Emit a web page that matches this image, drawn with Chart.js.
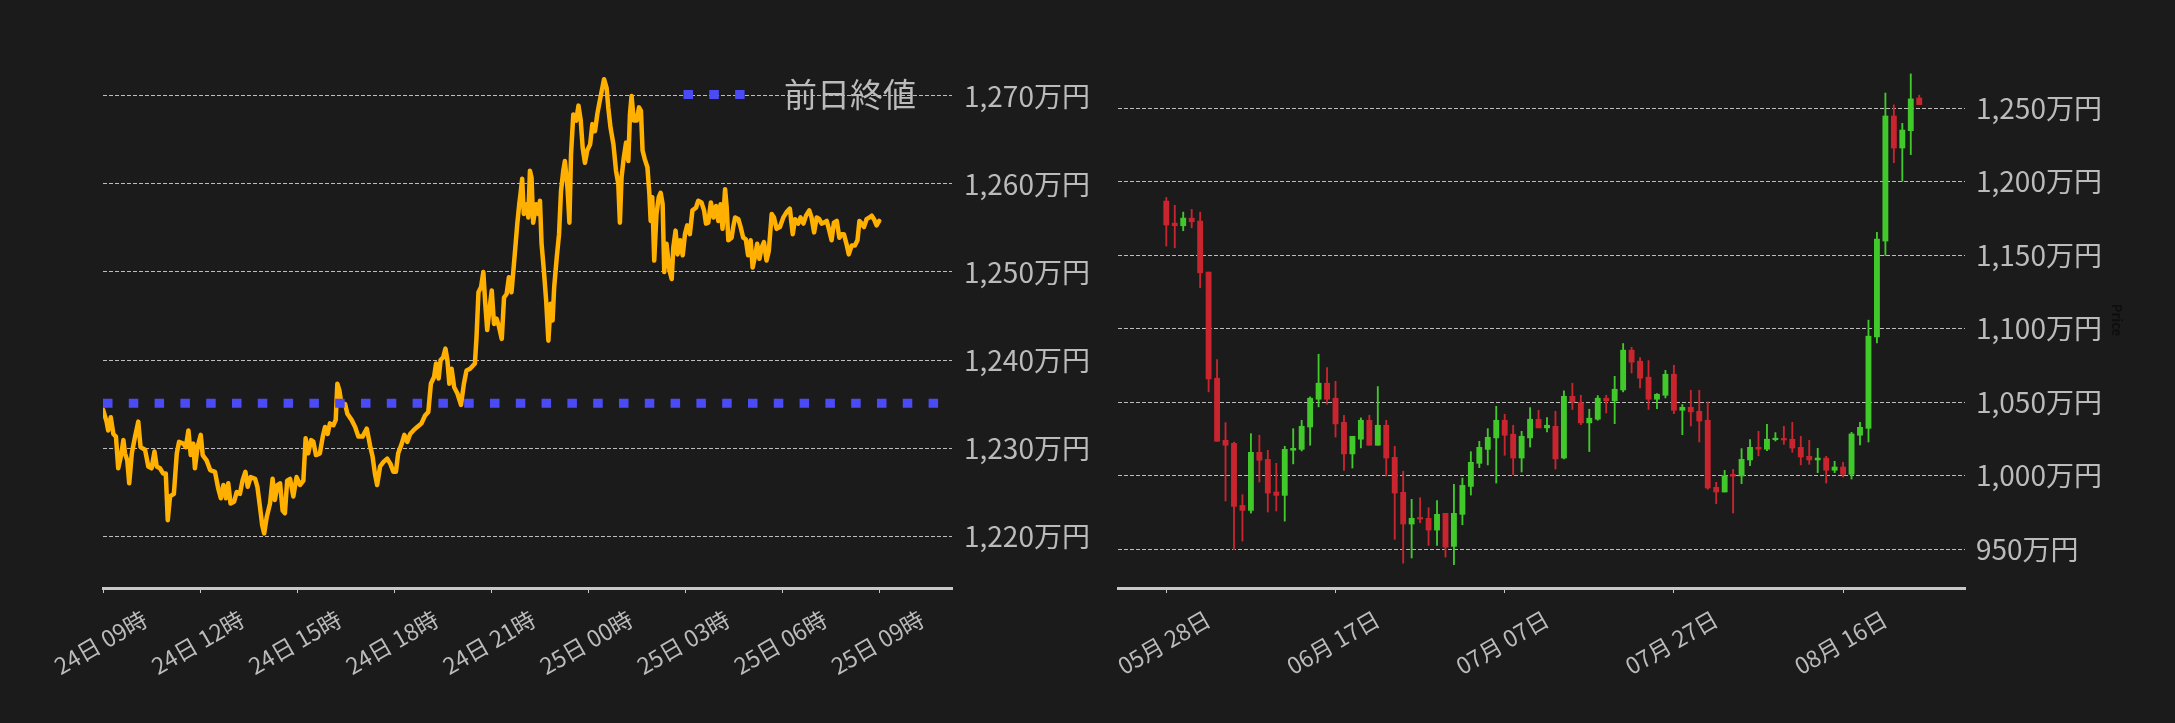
<!DOCTYPE html>
<html>
<head>
<meta charset="utf-8">
<script src="https://cdn.jsdelivr.net/npm/chart.js@4.4.1/dist/chart.umd.min.js"></script>
<style>
  html, body { margin: 0; padding: 0; background: #1b1b1b; width: 2175px; height: 723px; overflow: hidden; }
  canvas { position: absolute; top: 0; }
  #intraday { left: 0; }
  #daily { left: 1000px; }
</style>
</head>
<body>
<canvas id="intraday" width="1110" height="723"></canvas>
<canvas id="daily" width="1175" height="723"></canvas>
<script>
// --- intraday price, hours after 24日 09:00, values in 万円 ---
const priceHours = [
  0.00, 0.11, 0.16, 0.24, 0.32, 0.40, 0.47, 0.55, 0.63, 0.68, 0.75, 0.81, 0.89, 0.99, 1.09, 1.16, 1.30, 1.40, 1.50, 1.59,
  1.66, 1.76, 1.86, 1.94, 2.00, 2.07, 2.19, 2.28, 2.35, 2.48, 2.56, 2.64, 2.71, 2.79, 2.84, 2.92, 3.02, 3.08, 3.20, 3.31,
  3.46, 3.56, 3.64, 3.72, 3.80, 3.87, 3.94, 4.05, 4.13, 4.23, 4.31, 4.40, 4.47, 4.56, 4.70, 4.77, 4.85, 4.92, 4.98, 5.06,
  5.16, 5.24, 5.31, 5.39, 5.47, 5.55, 5.62, 5.69, 5.78, 5.88, 5.98, 6.09, 6.19, 6.26, 6.34, 6.43, 6.50, 6.58, 6.70, 6.79,
  6.86, 6.94, 7.01, 7.12, 7.19, 7.24, 7.30, 7.37, 7.48, 7.55, 7.68, 7.79, 7.89,
  8.02, 8.15, 8.25, 8.33, 8.40, 8.47, 8.56, 8.66, 8.78, 8.88, 8.97, 9.05, 9.12, 9.23, 9.31, 9.40, 9.49, 9.59, 9.71, 9.84,
  9.95, 10.05, 10.13, 10.23, 10.29, 10.37, 10.43, 10.51, 10.58, 10.64, 10.70, 10.77, 10.85, 10.95, 11.06, 11.15, 11.23, 11.34, 11.49, 11.54,
  11.60, 11.68, 11.75, 11.81, 11.87, 11.96, 12.01, 12.08, 12.16, 12.24, 12.32, 12.39, 12.47, 12.54, 12.62, 12.68, 12.73, 12.80, 12.86, 12.90,
  12.95, 13.00, 13.09, 13.14, 13.19, 13.24, 13.29, 13.38, 13.45, 13.50, 13.55, 13.62, 13.69, 13.76, 13.83, 13.89, 13.94, 14.02, 14.09, 14.15,
  14.22, 14.27, 14.35, 14.41, 14.46, 14.53, 14.62, 14.69, 14.76, 14.82, 14.89, 14.96, 15.05, 15.12, 15.20, 15.27, 15.33, 15.41, 15.48, 15.56,
  15.61, 15.68, 15.77, 15.85, 15.92, 15.97,
  16.02, 16.09, 16.16, 16.23, 16.28, 16.33, 16.40, 16.49, 16.56, 16.62, 16.67, 16.74, 16.82, 16.88, 16.92, 16.97, 17.03, 17.10, 17.17, 17.23,
  17.29, 17.34, 17.41, 17.50, 17.57, 17.62, 17.69, 17.75, 17.83, 17.91, 17.98, 18.05, 18.13, 18.21, 18.32, 18.39, 18.49, 18.57, 18.63, 18.70,
  18.78, 18.86, 18.94, 19.01, 19.08, 19.14, 19.22, 19.27, 19.32, 19.42, 19.47, 19.53, 19.63, 19.70, 19.78, 19.86, 19.93, 20.01, 20.07, 20.14,
  20.21, 20.28, 20.35, 20.42, 20.50, 20.57, 20.66, 20.73, 20.81, 20.91, 21.02, 21.12, 21.22, 21.31, 21.38, 21.48, 21.55, 21.64, 21.72, 21.82,
  21.89, 21.97, 22.05, 22.13, 22.20, 22.27, 22.36, 22.44, 22.51, 22.58, 22.67, 22.75, 22.82, 22.89, 22.97, 23.04, 23.13, 23.23, 23.31, 23.37,
  23.44, 23.51, 23.59, 23.68, 23.75, 23.82, 23.90, 23.98
];
const priceMan = [
  1234.4, 1233.0, 1232.0, 1233.5, 1231.6, 1231.3, 1227.7, 1229.0, 1230.9, 1229.4, 1228.6, 1226.0, 1229.4, 1231.3, 1233.0, 1230.1, 1229.8, 1227.9, 1227.7, 1229.6,
  1227.9, 1227.7, 1227.1, 1227.1, 1221.8, 1224.5, 1224.8, 1229.4, 1230.7, 1230.5, 1230.1, 1232.0, 1229.2, 1230.5, 1227.7, 1230.1, 1231.5, 1229.2, 1228.6, 1227.5,
  1227.3, 1225.4, 1224.3, 1225.8, 1224.3, 1226.0, 1223.7, 1223.9, 1225.0, 1224.8, 1226.3, 1227.3, 1225.6, 1226.7, 1226.5, 1225.6, 1223.3, 1221.2, 1220.3, 1222.2,
  1223.7, 1226.5, 1224.1, 1225.8, 1226.0, 1222.9, 1222.6, 1226.3, 1226.5, 1224.5, 1226.7, 1225.8, 1226.3, 1231.1, 1229.4, 1230.9, 1230.7, 1229.2, 1229.4, 1231.3,
  1232.4, 1231.6, 1232.8, 1232.6, 1233.2, 1237.3, 1236.6, 1235.0, 1235.0, 1233.9, 1233.2, 1232.4, 1231.3,
  1231.3, 1232.2, 1230.3, 1229.0, 1227.1, 1225.8, 1227.9, 1228.4, 1228.8, 1228.2, 1227.3, 1227.3, 1229.4, 1230.5, 1231.5, 1230.7, 1231.6, 1232.0, 1232.4, 1232.8,
  1233.7, 1234.1, 1237.3, 1238.1, 1239.6, 1237.9, 1240.0, 1240.3, 1241.3, 1240.0, 1237.3, 1239.0, 1236.9, 1236.2, 1234.9, 1237.3, 1238.8, 1239.0, 1239.6, 1242.6,
  1247.7, 1248.3, 1250.0, 1246.4, 1243.4, 1246.4, 1247.9, 1244.1, 1244.7, 1243.7, 1242.4, 1247.1, 1247.5, 1249.4, 1247.7, 1250.2, 1252.4, 1255.5, 1257.7, 1258.9,
  1260.6, 1256.6, 1257.7, 1256.2, 1261.5, 1260.7, 1255.6, 1257.7, 1256.6, 1258.1, 1253.2, 1250.2, 1246.8, 1242.2, 1246.4, 1244.5, 1248.3, 1251.7, 1254.3, 1259.2,
  1261.5, 1262.6, 1259.6, 1255.6, 1263.4, 1267.9, 1267.2, 1268.9, 1267.2, 1264.1, 1262.4, 1263.8, 1264.5, 1266.8, 1266.0, 1267.9, 1269.1, 1270.6, 1271.9, 1270.9,
  1268.7, 1266.4, 1264.5, 1261.5, 1260.0, 1255.6,
  1260.7, 1263.0, 1264.7, 1262.6, 1267.9, 1270.0, 1267.2, 1267.2, 1268.7, 1268.3, 1263.8, 1262.8, 1261.9, 1258.9, 1255.8, 1258.5, 1251.3, 1256.6, 1258.5, 1259.0,
  1257.7, 1250.0, 1253.2, 1250.2, 1249.2, 1252.8, 1254.7, 1252.0, 1253.6, 1251.9, 1254.3, 1255.3, 1254.3, 1257.0, 1257.3, 1258.1, 1257.9, 1257.0, 1255.5, 1255.6,
  1257.9, 1256.2, 1257.5, 1255.8, 1257.7, 1254.9, 1259.4, 1257.3, 1253.6, 1253.9, 1255.1, 1256.2, 1256.0, 1255.1, 1253.9, 1253.7, 1251.9, 1253.6, 1250.5, 1251.7,
  1253.2, 1251.5, 1252.8, 1253.4, 1251.3, 1252.4, 1256.6, 1256.2, 1254.9, 1255.1, 1256.2, 1256.8, 1257.2, 1254.3, 1256.0, 1255.5, 1256.2, 1255.5, 1256.4, 1257.0,
  1256.2, 1254.5, 1256.2, 1256.0, 1255.5, 1255.6, 1255.8, 1254.7, 1253.6, 1255.6, 1255.8, 1253.9, 1254.3, 1254.3, 1253.2, 1252.0, 1253.0, 1253.0, 1253.6, 1255.8,
  1255.5, 1255.1, 1256.0, 1256.2, 1256.4, 1256.0, 1255.3, 1255.8
];
const prevClose = 1235.1;
const prevCloseEndHour = 25.85;
const timeTicks = [0, 3, 6, 9, 12, 15, 18, 21, 24];
const timeTickLabels = ['24日 09時', '24日 12時', '24日 15時', '24日 18時', '24日 21時', '25日 00時', '25日 03時', '25日 06時', '25日 09時'];
const intradayTicks = [1220, 1230, 1240, 1250, 1260, 1270];

// --- daily candles 05/28 .. 08/25, x = day index, values in 万円 ---
const candleOpen = [
  1186.9, 1171.9, 1170.1, 1175.3, 1173.3, 1138.6, 1066.4, 1024.2, 1022.1, 979.9,
  976.5, 1016.0, 1011.2, 989.0, 986.7, 1017.4, 1018.0, 1033.2, 1052.1, 1063.0,
  1052.8, 1036.4, 1014.9, 1024.9, 1037.8, 1020.8, 1034.4, 1012.6, 988.8, 967.2,
  971.7, 971.1, 963.1, 974.5, 952.0, 973.8, 992.8, 1008.5, 1018.0, 1025.8,
  1037.8, 1028.3, 1012.1, 1025.8, 1038.5, 1032.6, 1033.7, 1012.1, 1054.1, 1049.8,
  1036.0, 1038.5, 1052.8, 1051.0, 1058.4, 1085.5, 1078.0, 1067.1, 1052.1, 1054.8,
  1069.1, 1044.6, 1046.6, 1043.9, 1037.8, 992.2, 989.0, 1001.0, 999.9, 1010.8,
  1019.4, 1018.1, 1024.6, 1025.1, 1024.9, 1019.4, 1013.3, 1010.8, 1012.1, 1003.8,
  1006.0, 1001.0, 1027.6, 1032.3, 1094.5, 1159.7, 1244.8, 1223.0, 1234.8, 1257.0
];
const candleHigh = [
  1189.4, 1184.0, 1179.4, 1181.2, 1179.4, 1138.6, 1079.1, 1036.2, 1023.0, 987.2,
  1028.7, 1027.6, 1017.4, 1008.5, 1020.1, 1032.1, 1037.8, 1053.7, 1082.7, 1073.6,
  1064.3, 1041.2, 1026.9, 1039.4, 1041.2, 1060.7, 1037.8, 1020.1, 1003.1, 984.0,
  985.1, 978.3, 983.1, 974.5, 994.2, 998.5, 1016.4, 1023.5, 1032.1, 1047.3,
  1041.9, 1034.4, 1030.3, 1046.4, 1044.6, 1039.6, 1043.9, 1057.8, 1063.0, 1054.8,
  1045.3, 1054.6, 1054.8, 1067.7, 1090.0, 1087.5, 1080.5, 1078.4, 1055.9, 1071.8,
  1075.2, 1048.5, 1058.2, 1058.2, 1050.3, 995.6, 1003.7, 1004.4, 1018.5, 1024.6,
  1030.3, 1035.1, 1029.4, 1033.7, 1036.4, 1026.9, 1024.2, 1018.7, 1013.3, 1009.9,
  1009.2, 1029.6, 1036.4, 1105.9, 1165.6, 1260.4, 1252.3, 1239.8, 1273.4, 1258.9
];
const candleLow = [
  1156.3, 1155.1, 1166.7, 1168.7, 1127.9, 1057.1, 1023.5, 982.9, 949.7, 955.6,
  974.7, 995.8, 975.4, 976.1, 969.2, 1008.1, 1016.9, 1020.8, 1046.9, 1048.7,
  1026.4, 1003.7, 1005.3, 1019.0, 1020.8, 1020.8, 999.9, 956.8, 940.6, 944.1,
  968.1, 952.7, 952.7, 944.7, 939.5, 966.7, 986.9, 1005.6, 1007.4, 995.1,
  1014.0, 1000.8, 1002.6, 1019.6, 1032.6, 1029.8, 1004.6, 1011.5, 1045.1, 1034.8,
  1016.5, 1037.8, 1042.8, 1035.5, 1057.1, 1070.0, 1059.8, 1045.1, 1045.7, 1053.0,
  1042.3, 1028.0, 1033.9, 1023.0, 990.8, 981.1, 989.0, 974.7, 994.7, 1006.9,
  1013.6, 1017.1, 1023.7, 1021.4, 1016.0, 1007.4, 1007.8, 1002.2, 995.1, 1002.2,
  999.2, 997.8, 1021.0, 1023.0, 1090.4, 1149.9, 1213.0, 1200.3, 1218.5, 1252.5
];
const candleClose = [
  1170.6, 1170.1, 1175.3, 1172.8, 1138.1, 1065.9, 1023.5, 1020.8, 979.2, 976.5,
  1016.0, 1010.6, 988.3, 986.7, 1018.0, 1018.7, 1033.7, 1052.8, 1063.0, 1052.1,
  1035.3, 1014.9, 1026.9, 1037.8, 1020.8, 1034.4, 1012.1, 988.3, 967.2, 971.1,
  970.6, 963.1, 973.8, 951.5, 974.5, 993.5, 1009.2, 1019.4, 1026.2, 1037.8,
  1027.6, 1012.1, 1026.9, 1038.5, 1032.6, 1034.4, 1011.5, 1054.1, 1050.3, 1036.0,
  1039.2, 1052.8, 1051.0, 1058.9, 1085.5, 1077.3, 1066.4, 1052.1, 1055.5, 1069.1,
  1044.6, 1046.6, 1043.5, 1037.3, 991.7, 989.0, 1000.1, 999.7, 1011.2, 1019.4,
  1018.1, 1024.9, 1025.1, 1024.4, 1018.9, 1012.8, 1010.8, 1012.1, 1003.8, 1006.0,
  1001.0, 1028.5, 1033.0, 1095.0, 1161.0, 1244.8, 1223.0, 1235.2, 1256.4, 1252.5
];
const dayTicks = [0, 20, 40, 60, 80];
const dayTickLabels = ['05月 28日', '06月 17日', '07月 07日', '07月 27日', '08月 16日'];
const dailyTicks = [950, 1000, 1050, 1100, 1150, 1200, 1250];

const TEXT = '#bbbbbb';
const GRID = '#bdbdbd';
const AXIS = '#c8c8c8';
const UP = '#41c92b';
const DOWN = '#c9252f';

Chart.defaults.font.family = '"Noto Sans CJK JP", "Noto Sans", sans-serif';
Chart.defaults.color = TEXT;
Chart.defaults.animation = false;
Chart.defaults.plugins.tooltip.enabled = false;

const manYen = v => v.toLocaleString('en-US') + '万円';
const useTicks = values => scale => { scale.ticks = values.map(v => ({ value: v })); };

// legend sits inside the plot, top right, like the original
const legendShift = {
  id: 'legendShift',
  afterLayout(chart, args, opts) {
    const lg = chart.legend;
    lg.left += opts.dx; lg.right += opts.dx;
    lg.top += opts.dy; lg.bottom += opts.dy;
  }
};

function bottomAxis(min, max, ticks, labels) {
  return {
    type: 'linear', min: min, max: max, offset: false,
    afterBuildTicks: useTicks(ticks),
    afterFit: s => { s.height = 135; },
    grid: { drawOnChartArea: false, offset: false, tickLength: 5, tickColor: AXIS, tickWidth: 1 },
    border: { display: true, color: AXIS, width: 3 },
    ticks: {
      autoSkip: false, minRotation: 30, maxRotation: 30,
      labelOffset: 42, padding: 12, color: TEXT, font: { size: 23 },
      callback: (v, i) => labels[i]
    }
  };
}

function priceAxis(min, max, ticks, width) {
  return {
    position: 'right', min: min, max: max,
    afterBuildTicks: useTicks(ticks),
    afterFit: s => { s.width = width; },
    grid: { color: GRID, lineWidth: 1, drawTicks: false },
    border: { display: false, dash: [4, 2] },
    ticks: { padding: 12, color: TEXT, font: { size: 28 }, callback: v => manYen(v) }
  };
}

new Chart(document.getElementById('intraday'), {
  type: 'line',
  data: {
    datasets: [
      {
        label: '前日終値',
        data: [{ x: 0, y: prevClose }, { x: prevCloseEndHour, y: prevClose }],
        borderColor: '#4b4bf5', backgroundColor: '#4b4bf5',
        borderWidth: 9, borderDash: [9.5, 16.3], borderCapStyle: 'butt',
        pointRadius: 0
      },
      {
        label: '価格',
        data: priceHours.map((h, i) => ({ x: h, y: priceMan[i] })),
        borderColor: '#ffb000', borderWidth: 4.5,
        borderJoinStyle: 'round', borderCapStyle: 'round',
        pointRadius: 0, tension: 0
      }
    ]
  },
  options: {
    responsive: false,
    layout: { padding: { left: 103, top: 0, right: 0, bottom: 0 } },
    plugins: {
      legend: {
        position: 'top', align: 'end', fullSize: false,
        labels: {
          usePointStyle: true, pointStyle: 'line', pointStyleWidth: 84,
          padding: 10, color: TEXT, font: { size: 33 },
          generateLabels: chart => Chart.defaults.plugins.legend.labels.generateLabels(chart)
            .filter(item => item.datasetIndex === 0)
            .map(item => Object.assign(item, { lineDash: [9.5, 16.3, 9.5, 16.3, 9.5, 200] }))
        }
      },
      legendShift: { dx: -26, dy: 68 }
    },
    scales: {
      x: bottomAxis(0, 26.23, timeTicks, timeTickLabels),
      y: priceAxis(1214.1, 1274.88, intradayTicks, 158)
    }
  },
  plugins: [legendShift]
});

const candleColors = candleOpen.map((o, i) => candleClose[i] >= o ? UP : DOWN);
const dailyY = priceAxis(923.7, 1288.3, dailyTicks, 163.8);
dailyY.ticks.padding = 11;
dailyY.title = { display: true, text: 'Price', color: '#0e0e0e', font: { size: 13, weight: 'bold' } };

new Chart(document.getElementById('daily'), {
  type: 'bar',
  data: {
    datasets: [
      {
        label: 'body',
        data: candleOpen.map((o, i) => ({ x: i, y: [o, candleClose[i]] })),
        backgroundColor: candleColors,
        barThickness: 5.2, minBarLength: 1.5, grouped: false
      },
      {
        label: 'wick',
        data: candleLow.map((l, i) => ({ x: i, y: [l, candleHigh[i]] })),
        backgroundColor: candleColors,
        barThickness: 1.2, grouped: false
      }
    ]
  },
  options: {
    responsive: false,
    layout: { padding: { left: 118, top: 52, right: 46.2, bottom: 0 } },
    plugins: { legend: { display: false } },
    scales: {
      x: bottomAxis(-5.71, 94.41, dayTicks, dayTickLabels),
      y: dailyY
    }
  }
});
</script>
</body>
</html>
